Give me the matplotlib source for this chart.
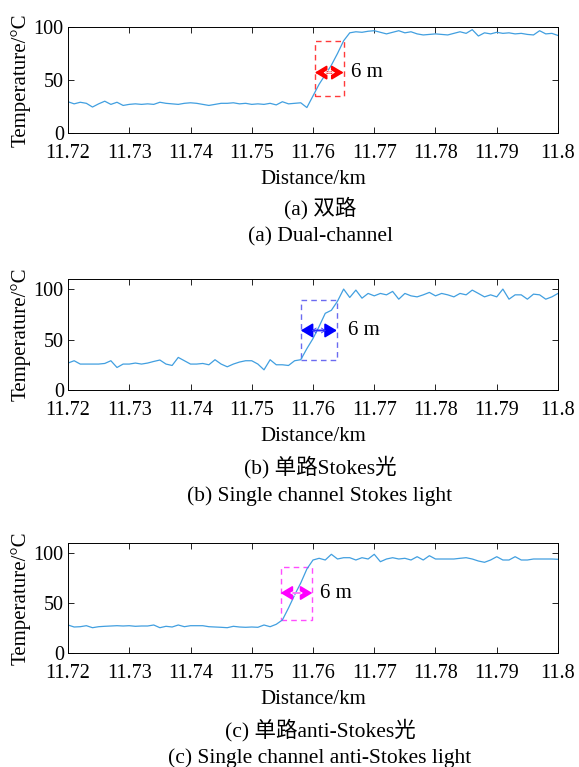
import numpy as np
import matplotlib
matplotlib.use("Agg")
import matplotlib.pyplot as plt
from matplotlib.patches import Rectangle

plt.rcParams['font.family'] = ['Liberation Serif', 'Noto Sans CJK SC']
plt.rcParams['mathtext.fontset'] = 'stix'

# Distance grid (1 m sampling), km
distance_km = np.round(np.arange(11.720, 11.8005, 0.001), 3)

# (a) Dual-channel temperature, degC
temp_dual = [
    29.5, 27.5, 29, 28, 24.5, 27.5, 30, 27, 29, 26,
    27, 27.5, 27, 27.5, 27, 29, 28, 27.5, 27, 28,
    28.5, 28, 27, 26, 27, 28, 28, 28.5, 27.5, 28,
    27, 27.5, 27, 28, 26.5, 29.5, 27.5, 28, 28.5, 24,
    35, 46, 55, 64, 75, 87,
    94.5, 95.5, 95, 96, 96.5, 95, 93.5, 95, 96.5, 94.5,
    95.5, 93.5, 92.5, 93, 93.5, 93, 92.5, 94, 95.5, 94,
    97.5, 91.5, 94.5, 93.5, 95, 94, 94.5, 93.5, 94, 93,
    92.5, 96.5, 93.5, 94, 92,
]

# (b) Single channel Stokes light temperature, degC
temp_stokes = [
    26.7, 29, 25.7, 25.7, 25.7, 25.7, 26.3, 29, 22.3, 25.7,
    25.7, 26.7, 25.7, 26.7, 28.3, 29.7, 25.7, 24.3, 32.3, 29,
    25.7, 25.7, 26.3, 25, 30, 25.7, 23, 25.7, 27.7, 29,
    29, 25.7, 20, 30, 25, 25, 24.3, 29, 30,
    41, 51, 63, 76, 79, 88, 100,
    91.7, 99, 91, 95.7, 93.3, 95.7, 94.3, 97.7, 90, 95.7,
    93.3, 92.3, 94.3, 96.7, 93.3, 95.7, 94.3, 92.3, 95.7, 94.3,
    99, 95.7, 92.3, 94.3, 92.3, 100, 90, 94.3, 94.3, 90,
    95, 94.3, 90, 92.3, 95.7,
]

# (c) Single channel anti-Stokes light temperature, degC
temp_antistokes = [
    28, 26, 26.3, 27.3, 25.3, 26.3, 26.7, 27, 27.3, 27,
    27.3, 26.7, 27, 27, 28, 25.3, 26.7, 26, 28, 26.3,
    27.3, 27.3, 27.3, 26.3, 26, 25.7, 25.3, 26.7, 26, 25.7,
    26, 25.7, 28, 26.3, 28.7,
    33, 45, 58, 70, 84, 93,
    94.7, 93, 98.7, 94, 95.3, 95.3, 93, 95.3, 94, 98.7,
    91.3, 94, 95.3, 94, 94.7, 93, 96.3, 93, 97.3, 94,
    94, 94, 94, 94.7, 95.3, 94, 92, 90.7, 93, 96.3,
    93, 93, 96.3, 93, 93, 94, 94, 94, 94, 93.7,
]

series = [temp_dual, temp_stokes, temp_antistokes]
ylims = [(0, 100), (0, 110), (0, 110)]

# Resolution boxes: (x0, x1), (y0, y1), arrow y, label position
box_x = [(11.7603, 11.7650), (11.7580, 11.7639), (11.7547, 11.7599)]
box_y = [(35, 87), (30, 89), (33, 86)]
arrow_y = [57, 59, 60]
label_xy = [(11.7662, 57), (11.7657, 59), (11.7611, 60)]
res_label = "6 m"
box_colors = ['#ff3b3b', '#6b6bf0', '#ff4dff']
arrow_colors = ['#ff0000', '#0000ff', '#ff00ff']
inner_colors = ['white', '#3333ff', 'white']

captions_cn = ['(a) 双路', '(b) 单路Stokes光', '(c) 单路anti-Stokes光']
captions_en = ['(a) Dual-channel', '(b) Single channel Stokes light',
               '(c) Single channel anti-Stokes light']

xticks = [11.72, 11.73, 11.74, 11.75, 11.76, 11.77, 11.78, 11.79, 11.8]
xticklabels = ['11.72', '11.73', '11.74', '11.75', '11.76', '11.77', '11.78', '11.79', '11.8']

W, H = 579, 767
fig = plt.figure(figsize=(W / 100, H / 100), dpi=100)

# axes rectangles in pixels: (left, top, right, bottom)
ax_px = [(68, 27, 558, 133), (68, 279, 558, 390), (68, 543, 558, 653)]
cap_cn_y = [208, 467, 730]
cap_en_y = [237, 496, 758]
cap_x = 320

line_color = '#419fe0'
fs_tick = 14.5
fs_label = 15
fs_cap = 15.5

for i in range(3):
    l, t, r, b = ax_px[i]
    ax = fig.add_axes([l / W, 1 - b / H, (r - l) / W, (b - t) / H])
    ax.plot(distance_km, series[i], color=line_color, lw=0.9)
    ax.set_xlim(11.72, 11.8)
    ax.set_ylim(*ylims[i])
    ax.set_xticks(xticks)
    ax.set_xticklabels(xticklabels)
    ax.set_yticks([0, 50, 100])
    ax.tick_params(direction='in', top=True, right=True, length=4, width=0.6,
                   labelsize=fs_tick, pad=8, colors='black')
    ax.tick_params(axis='y', pad=3)
    for s in ax.spines.values():
        s.set_linewidth(0.7)
    ax.set_xlabel('Distance/km', fontsize=fs_label, labelpad=5)
    ax.set_ylabel('Temperature/°C', fontsize=fs_label, labelpad=2)

    x0, x1 = box_x[i]
    y0, y1 = box_y[i]
    ax.add_patch(Rectangle((x0, y0), x1 - x0, y1 - y0, fill=False,
                           edgecolor=box_colors[i], lw=1.0, ls=(0, (4, 3))))
    ax.annotate('', xy=(x0, arrow_y[i]), xytext=(x1, arrow_y[i]),
                arrowprops=dict(arrowstyle='<|-|>,head_length=0.6,head_width=0.36',
                                color=arrow_colors[i], lw=1.3,
                                mutation_scale=12, shrinkA=0, shrinkB=0))
    w = x1 - x0
    ax.annotate('', xy=(x0 + 0.3 * w, arrow_y[i]), xytext=(x1 - 0.3 * w, arrow_y[i]),
                arrowprops=dict(arrowstyle='<->,head_length=0.4,head_width=0.25',
                                color=inner_colors[i], lw=0.6,
                                mutation_scale=7, shrinkA=0, shrinkB=0))
    ax.text(label_xy[i][0], label_xy[i][1], res_label, fontsize=fs_label,
            ha='left', va='center')

    fig.text(cap_x / W, 1 - cap_cn_y[i] / H, captions_cn[i],
             fontsize=fs_cap, ha='center', va='center')
    fig.text(cap_x / W, 1 - cap_en_y[i] / H, captions_en[i],
             fontsize=fs_cap, ha='center', va='center')

fig.savefig('out.png', dpi=100)
